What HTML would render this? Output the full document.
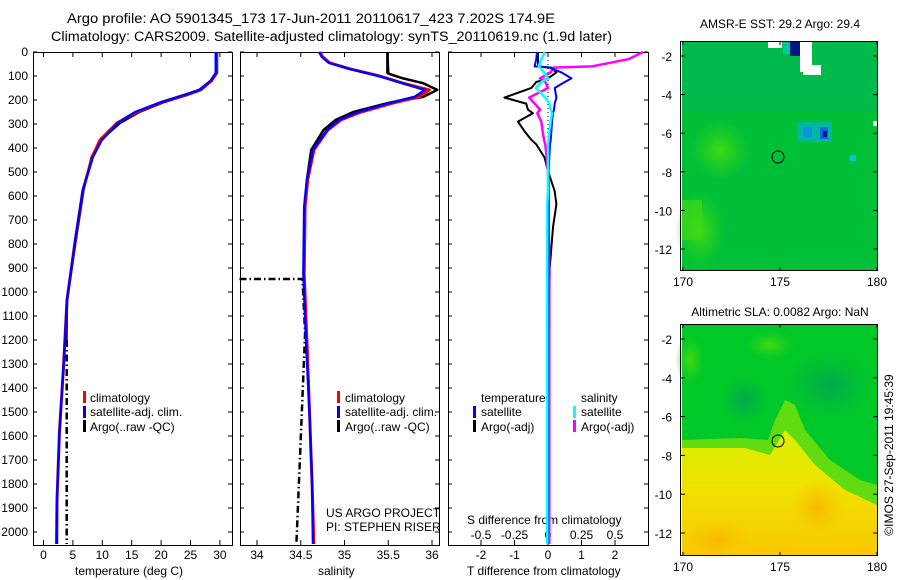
<!DOCTYPE html>
<html><head><meta charset="utf-8"><style>
html,body{margin:0;padding:0;background:#fff;width:900px;height:580px;overflow:hidden}
svg{display:block;font-family:"Liberation Sans",sans-serif}
text{fill:#000}
</style></head><body>
<svg id="fig" width="900" height="580" viewBox="0 0 900 580" xmlns="http://www.w3.org/2000/svg">
<defs>
<radialGradient id="og1" cx="0.5" cy="0.5" r="0.5"><stop offset="0" stop-color="#f8b800"/><stop offset="1" stop-color="#f8c800" stop-opacity="0"/></radialGradient>
<radialGradient id="og2" cx="0.5" cy="0.5" r="0.5"><stop offset="0" stop-color="#00a850"/><stop offset="1" stop-color="#00b840" stop-opacity="0"/></radialGradient>
<radialGradient id="lg1" cx="0.5" cy="0.5" r="0.5"><stop offset="0" stop-color="#40dc10"/><stop offset="1" stop-color="#30d020" stop-opacity="0"/></radialGradient>
<linearGradient id="yel" x1="0" y1="0" x2="0" y2="1"><stop offset="0" stop-color="#d8f000"/><stop offset="0.5" stop-color="#f0e000"/><stop offset="1" stop-color="#f8c800"/></linearGradient>
</defs>
<text x="67" y="23" font-size="13.5" textLength="488" lengthAdjust="spacingAndGlyphs">Argo profile: AO 5901345_173 17-Jun-2011 20110617_423 7.202S 174.9E</text>
<text x="51" y="41" font-size="13.5" textLength="561" lengthAdjust="spacingAndGlyphs">Climatology: CARS2009. Satellite-adjusted climatology: synTS_20110619.nc (1.9d later)</text>
<g id="p1"></g>
<g id="p2"></g>
<g id="p3"></g>

<!-- SST map -->
<g>
<text x="780" y="28" font-size="12" text-anchor="middle">AMSR-E SST: 29.2 Argo: 29.4</text>
<rect x="682" y="42" width="195" height="228" fill="#00c038"/>
<rect x="682" y="42" width="195" height="70" fill="#00b850" opacity="0.8"/>
<ellipse cx="720" cy="150" rx="30" ry="30" fill="url(#lg1)"/>
<ellipse cx="700" cy="230" rx="25" ry="40" fill="url(#lg1)"/>
<rect x="682" y="200" width="20" height="40" fill="#40d818" opacity="0.7"/>
<rect x="797" y="122" width="35" height="20" fill="#00b8a0"/>
<rect x="803" y="127" width="9" height="10" fill="#1090e0"/>
<rect x="820" y="127" width="8" height="12" fill="#1068e0"/>
<rect x="823" y="131" width="4" height="6" fill="#001890"/>
<rect x="850" y="155" width="6" height="6" fill="#00c8d0"/>
<rect x="768" y="42" width="14" height="6" fill="#fff"/>
<rect x="790" y="42" width="10" height="14" fill="#001880"/>
<rect x="783" y="42" width="7" height="12" fill="#00c8a0"/>
<rect x="800" y="42" width="12" height="30" fill="#fff"/>
<rect x="803" y="65" width="18" height="10" fill="#fff"/>
<rect x="873" y="121" width="4" height="5" fill="#fff"/>
<rect x="680.5" y="41.5" width="197" height="229" fill="none" stroke="#000"/>
<circle cx="778" cy="157" r="6" fill="none" stroke="#000"/>
<g id="m1ax"></g>
</g>

<!-- SLA map -->
<g>
<text x="780" y="316" font-size="12" text-anchor="middle">Altimetric SLA: 0.0082 Argo: NaN</text>
<rect x="682" y="325" width="195" height="230" fill="#00c828"/>
<ellipse cx="830" cy="385" rx="45" ry="35" fill="url(#og2)"/>
<ellipse cx="745" cy="400" rx="25" ry="25" fill="url(#og2)"/>
<ellipse cx="770" cy="345" rx="25" ry="15" fill="url(#lg1)"/>
<ellipse cx="690" cy="360" rx="15" ry="25" fill="url(#lg1)"/>
<path d="M682,440 L740,438 L768,440 L775,420 L785,400 L795,405 L805,430 L830,460 L860,480 L877,485 L877,555 L682,555 Z" fill="#60dc10"/>
<path d="M682,448 L745,448 L770,455 L785,430 L795,440 L815,465 L845,490 L877,505 L877,555 L682,555 Z" fill="url(#yel)"/>
<ellipse cx="818" cy="508" rx="28" ry="28" fill="url(#og1)"/>
<ellipse cx="718" cy="540" rx="35" ry="20" fill="url(#og1)"/>
<rect x="680.5" y="324.5" width="197" height="231" fill="none" stroke="#000"/>
<circle cx="778" cy="441" r="6" fill="none" stroke="#000"/>
<g id="m2ax"></g>
</g>
<text transform="translate(893,455) rotate(-90)" font-size="12" text-anchor="middle">©IMOS 27-Sep-2011 19:45:39</text>
</svg>
<script>
// ---- data ----
const depthTicks=[0,100,200,300,400,500,600,700,800,900,1000,1100,1200,1300,1400,1500,1600,1700,1800,1900,2000];
const tempTicks=[0,5,10,15,20,25,30];
const salTicks=[34,34.5,35,35.5,36];
const tdiffTicks=[-2,-1,0,1,2];
const sdiffTicks=[-0.5,-0.25,0,0.25,0.5];
const tDepth=[0,87,120,158,180,208,250,296,367,437,575,783,1033,1312,1587,1867,2050];
const tClim=[29.4,29.4,28.5,26.6,24,20.3,15.9,12.5,9.6,8.3,6.7,5.4,4.0,3.4,2.7,2.3,2.2];
const tSat=[29.3,29.3,28.4,26.5,23.8,20.1,15.6,12.6,9.9,8.4,6.7,5.4,4.0,3.4,2.7,2.3,2.3];
const aTDepth=[0,87,120,158,180,208,250,296,367,437,575,783,1033,1200];
const aTemp=[29.5,29.5,28.6,26.8,24.3,20.6,16.3,13.0,9.7,8.2,6.8,5.5,4.0,3.9];
const aTDeepDepth=[1200,2050];
const aTDeep=[3.95,3.95];
const sDepth=[0,20,45,70,100,130,158,187,212,250,283,325,408,533,644,922,1200,1500,1800,2050];
const sClim=[34.72,34.75,34.83,35.06,35.4,35.67,35.97,35.85,35.56,35.19,34.96,34.81,34.65,34.58,34.55,34.54,34.57,34.6,34.63,34.65];
const sSat=[34.71,34.74,34.82,35.05,35.39,35.66,35.92,35.8,35.52,35.16,34.94,34.8,34.64,34.57,34.54,34.53,34.56,34.6,34.63,34.64];
const aSDepth=[0,90,110,130,158,187,212,250,283,325,408,533,644,922];
const aSal=[35.49,35.5,35.67,35.9,36.06,35.9,35.5,35.1,34.9,34.76,34.62,34.57,34.55,34.54];
const aSDeepDepth=[946,946,1170,2050];
const aSDeep=[33.8,34.52,34.55,34.45];
const dDepth=[0,30,60,65,85,110,125,150,190,215,240,255,290,330,366,385,440,495,505,580,635,730,900,1300,2050];
const dTSat=[-0.33,-0.35,-0.4,0.05,0.4,0.7,0.5,0.2,0.25,0.2,0.18,0.15,0.12,0.1,0.08,0.06,0.04,0.02,0.02,0.02,0.01,0.01,0.01,0,0];
const dTArgo=[-0.3,-0.3,-0.3,0.1,0.25,0.0,-0.35,-0.5,-1.3,-0.65,-0.6,-0.45,-0.9,-0.7,-0.5,-0.35,-0.1,0,0.02,0.2,0.25,0.15,0.05,0.02,0.02];
const dSSat=[-0.025,-0.05,-0.07,-0.06,-0.03,0,-0.05,-0.09,-0.02,0.01,0.02,0.03,0.02,0.01,0.005,0,0,0,0,0,-0.005,-0.005,-0.005,-0.005,-0.005];
const dSArgo=[0.71,0.6,0.33,0.04,0.02,-0.06,-0.02,0.0,-0.14,-0.1,-0.06,-0.08,-0.05,-0.04,-0.03,-0.02,-0.01,0,0,0.005,0.005,0.005,0.01,0.01,0.01];
const latTicks=[-2,-4,-6,-8,-10,-12];
const lonTicks=[170,175,180];

const NS='http://www.w3.org/2000/svg';
function mk(parent,tag,attrs){const e=document.createElementNS(NS,tag);for(const k in attrs)e.setAttribute(k,attrs[k]);parent.appendChild(e);return e;}
const yD=d=>52+d*0.24;
const TOP=52,BOT=545;

function frame(g,x0,x1,name){
  const r=mk(g,'rect',{x:x0+0.5,y:TOP+0.5,width:x1-x0,height:BOT-TOP,fill:'none',stroke:'#000'});
  
  
  depthTicks.forEach(d=>{const y=yD(d);mk(g,'line',{x1:x0,x2:x0+4,y1:y,y2:y,stroke:'#000'});mk(g,'line',{x1:x1-4,x2:x1,y1:y,y2:y,stroke:'#000'});});
}
function xticks(g,vals,fx,labY,fmt){
  vals.forEach(v=>{const x=fx(v);mk(g,'line',{x1:x,x2:x,y1:TOP,y2:TOP+5,stroke:'#000'});mk(g,'line',{x1:x,x2:x,y1:BOT-5,y2:BOT,stroke:'#000'});
    const t=mk(g,'text',{x:x,y:labY,'font-size':12,'text-anchor':'middle'});t.textContent=fmt?fmt(v):v;
    
    });
}
function line(g,xs,ds,fx,color,name,w,dash){
  const pts=xs.map((v,i)=>fx(v).toFixed(1)+','+yD(ds[i]).toFixed(1)).join(' ');
  const a={points:pts,fill:'none',stroke:color,'stroke-width':w||2.5,'stroke-linejoin':'round'};
  if(dash)a['stroke-dasharray']=dash;
  const p=mk(g,'polyline',a);
  
  
}
function txt(g,x,y,s,name,size){const t=mk(g,'text',{x:x,y:y,'font-size':size||12});t.textContent=s;
  
  return t;}
function legBar(g,x,y,c){mk(g,'rect',{x:x,y:y-10,width:3,height:12,fill:c});}

// panel 1
const g1=document.getElementById('p1');
const fT=t=>43.5+t*5.88;
frame(g1,33,232,'temperature-frame');
depthTicks.forEach(d=>{const t=mk(g1,'text',{x:28,y:yD(d)+4,'font-size':12,'text-anchor':'end'});t.textContent=d;
  
  });
xticks(g1,tempTicks,fT,559);
txt(g1,75,575,'temperature (deg C)','temperature-axis-title');
line(g1,aTemp,aTDepth,fT,'#000','argo-temperature',2.5);
line(g1,aTDeep,aTDeepDepth,fT,'#000','argo-temperature-deep',2.5,'7,3,1.5,3');
line(g1,tClim,tDepth,fT,'#f00','clim-temperature',3);
line(g1,tSat,tDepth,fT,'#00f','sat-temperature',2.5);
legBar(g1,83,401,'#f00');txt(g1,90,402,'climatology','legend-climatology');
legBar(g1,83,416,'#00f');txt(g1,90,416,'satellite-adj. clim.','legend-satellite');
legBar(g1,83,430,'#000');txt(g1,90,431,'Argo(..raw -QC)','legend-argo');

// panel 2
const g2=document.getElementById('p2');
const fS=s=>257+(s-34)*87.5;
frame(g2,240,439,'salinity-frame');
xticks(g2,salTicks,fS,559);
txt(g2,318,575,'salinity','salinity-axis-title');
line(g2,aSal,aSDepth,fS,'#000','argo-salinity',2.5);
line(g2,[35.49,35.49],[0,90],fS,'#000','argo-salinity-top',2.5);
line(g2,aSDeep,aSDeepDepth,fS,'#000','argo-salinity-deep',2.5,'7,3,1.5,3');
line(g2,sClim,sDepth,fS,'#f00','clim-salinity',3);
line(g2,sSat,sDepth,fS,'#00f','sat-salinity',2.5);
legBar(g2,337,401,'#f00');txt(g2,345,402,'climatology','legend-climatology-2');
legBar(g2,337,416,'#00f');txt(g2,345,416,'satellite-adj. clim.','legend-satellite-2');
legBar(g2,337,430,'#000');txt(g2,345,431,'Argo(..raw -QC)','legend-argo-2');
txt(g2,326,517,'US ARGO PROJECT','project-label');
txt(g2,326,531,'PI: STEPHEN RISER','pi-label');

// panel 3
const g3=document.getElementById('p3');
const fTd=v=>548+v*33.5;
const fSd=v=>548+v*134;
frame(g3,448,648,'difference-frame');
xticks(g3,tdiffTicks,fTd,559);
sdiffTicks.forEach(v=>{const t=mk(g3,'text',{x:fSd(v),y:539,'font-size':12,'text-anchor':'middle'});t.textContent=v;
  
  });
txt(g3,467,524,'S difference from climatology','s-diff-axis-title');
txt(g3,467,575,'T difference from climatology','t-diff-axis-title');
mk(g3,'line',{x1:548,x2:548,y1:TOP,y2:BOT,stroke:'#000','stroke-dasharray':'1,3'});
line(g3,dTArgo.slice(0,24),dDepth.slice(0,24),fTd,'#000','argo-t-diff',2);
line(g3,dSArgo,dDepth,fSd,'#f0f','argo-s-diff',2.5);
line(g3,dTSat,dDepth,fTd,'#00f','sat-t-diff',2);
line(g3,dSSat,dDepth,fSd,'#0ff','sat-s-diff',2.5);
txt(g3,481,402,'temperature','legend-temperature-head');
legBar(g3,473,416,'#00f');txt(g3,481,416,'satellite','legend-t-satellite');
legBar(g3,473,430,'#000');txt(g3,481,431,'Argo(-adj)','legend-t-argo');
txt(g3,581,402,'salinity','legend-salinity-head');
legBar(g3,573,416,'#0ff');txt(g3,581,416,'satellite','legend-s-satellite');
legBar(g3,573,430,'#f0f');txt(g3,581,431,'Argo(-adj)','legend-s-argo');

// map axes
function mapAx(id,top,bot,y2,y12){
  const g=document.getElementById(id);
  const fy=l=>y2+(l+2)*(y12-y2)/(-10);
  const fx=l=>683+(l-170)*19.4;
  latTicks.forEach(l=>{const y=fy(l);mk(g,'line',{x1:681,x2:685,y1:y,y2:y,stroke:'#000'});mk(g,'line',{x1:873,x2:877,y1:y,y2:y,stroke:'#000'});
    const t=mk(g,'text',{x:672,y:y+5,'font-size':12,'text-anchor':'end'});t.textContent=l;
    
    });
  lonTicks.forEach(l=>{const x=fx(l);mk(g,'line',{x1:x,x2:x,y1:top,y2:top+4,stroke:'#000'});mk(g,'line',{x1:x,x2:x,y1:bot-4,y2:bot,stroke:'#000'});
    const t=mk(g,'text',{x:x,y:bot+15,'font-size':12,'text-anchor':'middle'});t.textContent=l;
    
    });
}
mapAx('m1ax',41,271,56,249);
mapAx('m2ax',324,556,339,533);
</script>
</body></html>
